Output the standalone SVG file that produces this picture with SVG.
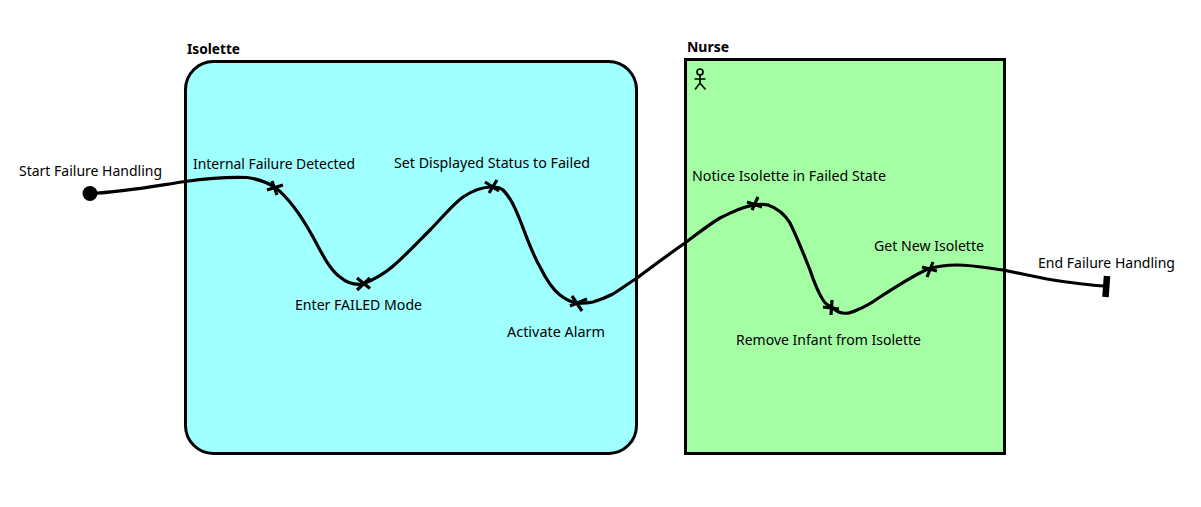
<svg xmlns="http://www.w3.org/2000/svg" width="1201" height="507" viewBox="0 0 1201 507">
<style>
text{font-family:"Noto Sans","Open Sans",sans-serif;font-size:14px;fill:#000}
.t{font-weight:700}
.lane{stroke:#000;stroke-width:3}
.c{fill:none;stroke:#000;stroke-width:3.200;stroke-linejoin:round;stroke-linecap:round}
.x{stroke:#000;stroke-width:3.200;fill:none}
</style>
<rect width="1201" height="507" fill="#fff"/>
<g id="isolette"><rect class="lane" x="185.500" y="61.500" width="451" height="392" rx="28" ry="28" fill="#a0ffff"/><text class="t" x="187" y="54" textLength="53" lengthAdjust="spacingAndGlyphs">Isolette</text></g>
<g id="nurse"><rect class="lane" x="685.500" y="59.500" width="319" height="394" fill="#a4ffa4"/><text class="t" x="687" y="52" textLength="42" lengthAdjust="spacingAndGlyphs">Nurse</text>
<g fill="none" stroke="#000" stroke-width="1.700"><circle cx="700" cy="72" r="3"/><path d="M700 75V83M694.500 79H705.500M695 89.500L700 83L705.500 89.500"/></g></g>
<g id="connectors"><path class="c" d="M90 193.500C125 192 155 186 185 181.500C210 178 232 177 247 177.500C258 179 268 183 274.500 187C288 197 302 217 313 237C322 254 330 270 340 277C347 283 356 285 363 284C375 279 385 273 392 267C405 256 418 242 430 230C442 218 452 205 463 197C472 191 482 187 491.500 187C497 187 501 188 503 190C511 198 515 208 520 220C527 238 532 253 540 267C546 279 552 289 560 295C565 299 571 302 577 303C583 303.500 588 303 593 302C600 300 607 297 613 294C621 289 629 283 637 278C653 266 669 254 685 243C696 235 708 225 720 218C732 212 744 206 755 205C760 204 764 204 768 205C777 208 785 215 790 223C797 237 804 255 810 270C814 282 818 292 823 300C826 305 829 306 832 307C836 311 839 313 843 313C848 314 853 312 857 310C865 307 873 302 880 297C896 287 912 276 928 269C938 266 947 265 957 265C972 265 988 268 1003 270C1018 273 1032 276 1047 279C1066 282 1086 285 1105 286"/></g>
<g id="start"><circle cx="90" cy="193.500" r="7.500" fill="#000"/><text x="19" y="176" textLength="143" lengthAdjust="spacingAndGlyphs">Start Failure Handling</text></g>
<g id="internal-failure"><path class="x" d="M267 190L283 185M272 181L277 195"/><text x="193" y="169" textLength="162" lengthAdjust="spacingAndGlyphs">Internal Failure Detected</text></g>
<g id="enter-failed"><path class="x" d="M357 278L370 288.500M370 278L357 290"/><text x="295" y="310" textLength="127" lengthAdjust="spacingAndGlyphs">Enter FAILED Mode</text></g>
<g id="set-status"><path class="x" d="M485 182L499 191M497 180L489 193"/><text x="394" y="168" textLength="196" lengthAdjust="spacingAndGlyphs">Set Displayed Status to Failed</text></g>
<g id="activate-alarm"><path class="x" d="M570 306L587 299M572 296L582 311"/><text x="507" y="337" textLength="98" lengthAdjust="spacingAndGlyphs">Activate Alarm</text></g>
<g id="notice"><path class="x" d="M747 202L762 207M758 197L752 210"/><text x="692" y="181" textLength="194" lengthAdjust="spacingAndGlyphs">Notice Isolette in Failed State</text></g>
<g id="remove-infant"><path class="x" d="M823 307L839 309M832 300L831 315"/><text x="736" y="345" textLength="185" lengthAdjust="spacingAndGlyphs">Remove Infant from Isolette</text></g>
<g id="get-new"><path class="x" d="M922 267L937 271M933 262L927 277"/><text x="874" y="251" textLength="110" lengthAdjust="spacingAndGlyphs">Get New Isolette</text></g>
<g id="end"><path d="M1107 276L1105.500 297" stroke="#000" stroke-width="6.500" fill="none"/><text x="1038" y="268" textLength="137" lengthAdjust="spacingAndGlyphs">End Failure Handling</text></g>
</svg>
